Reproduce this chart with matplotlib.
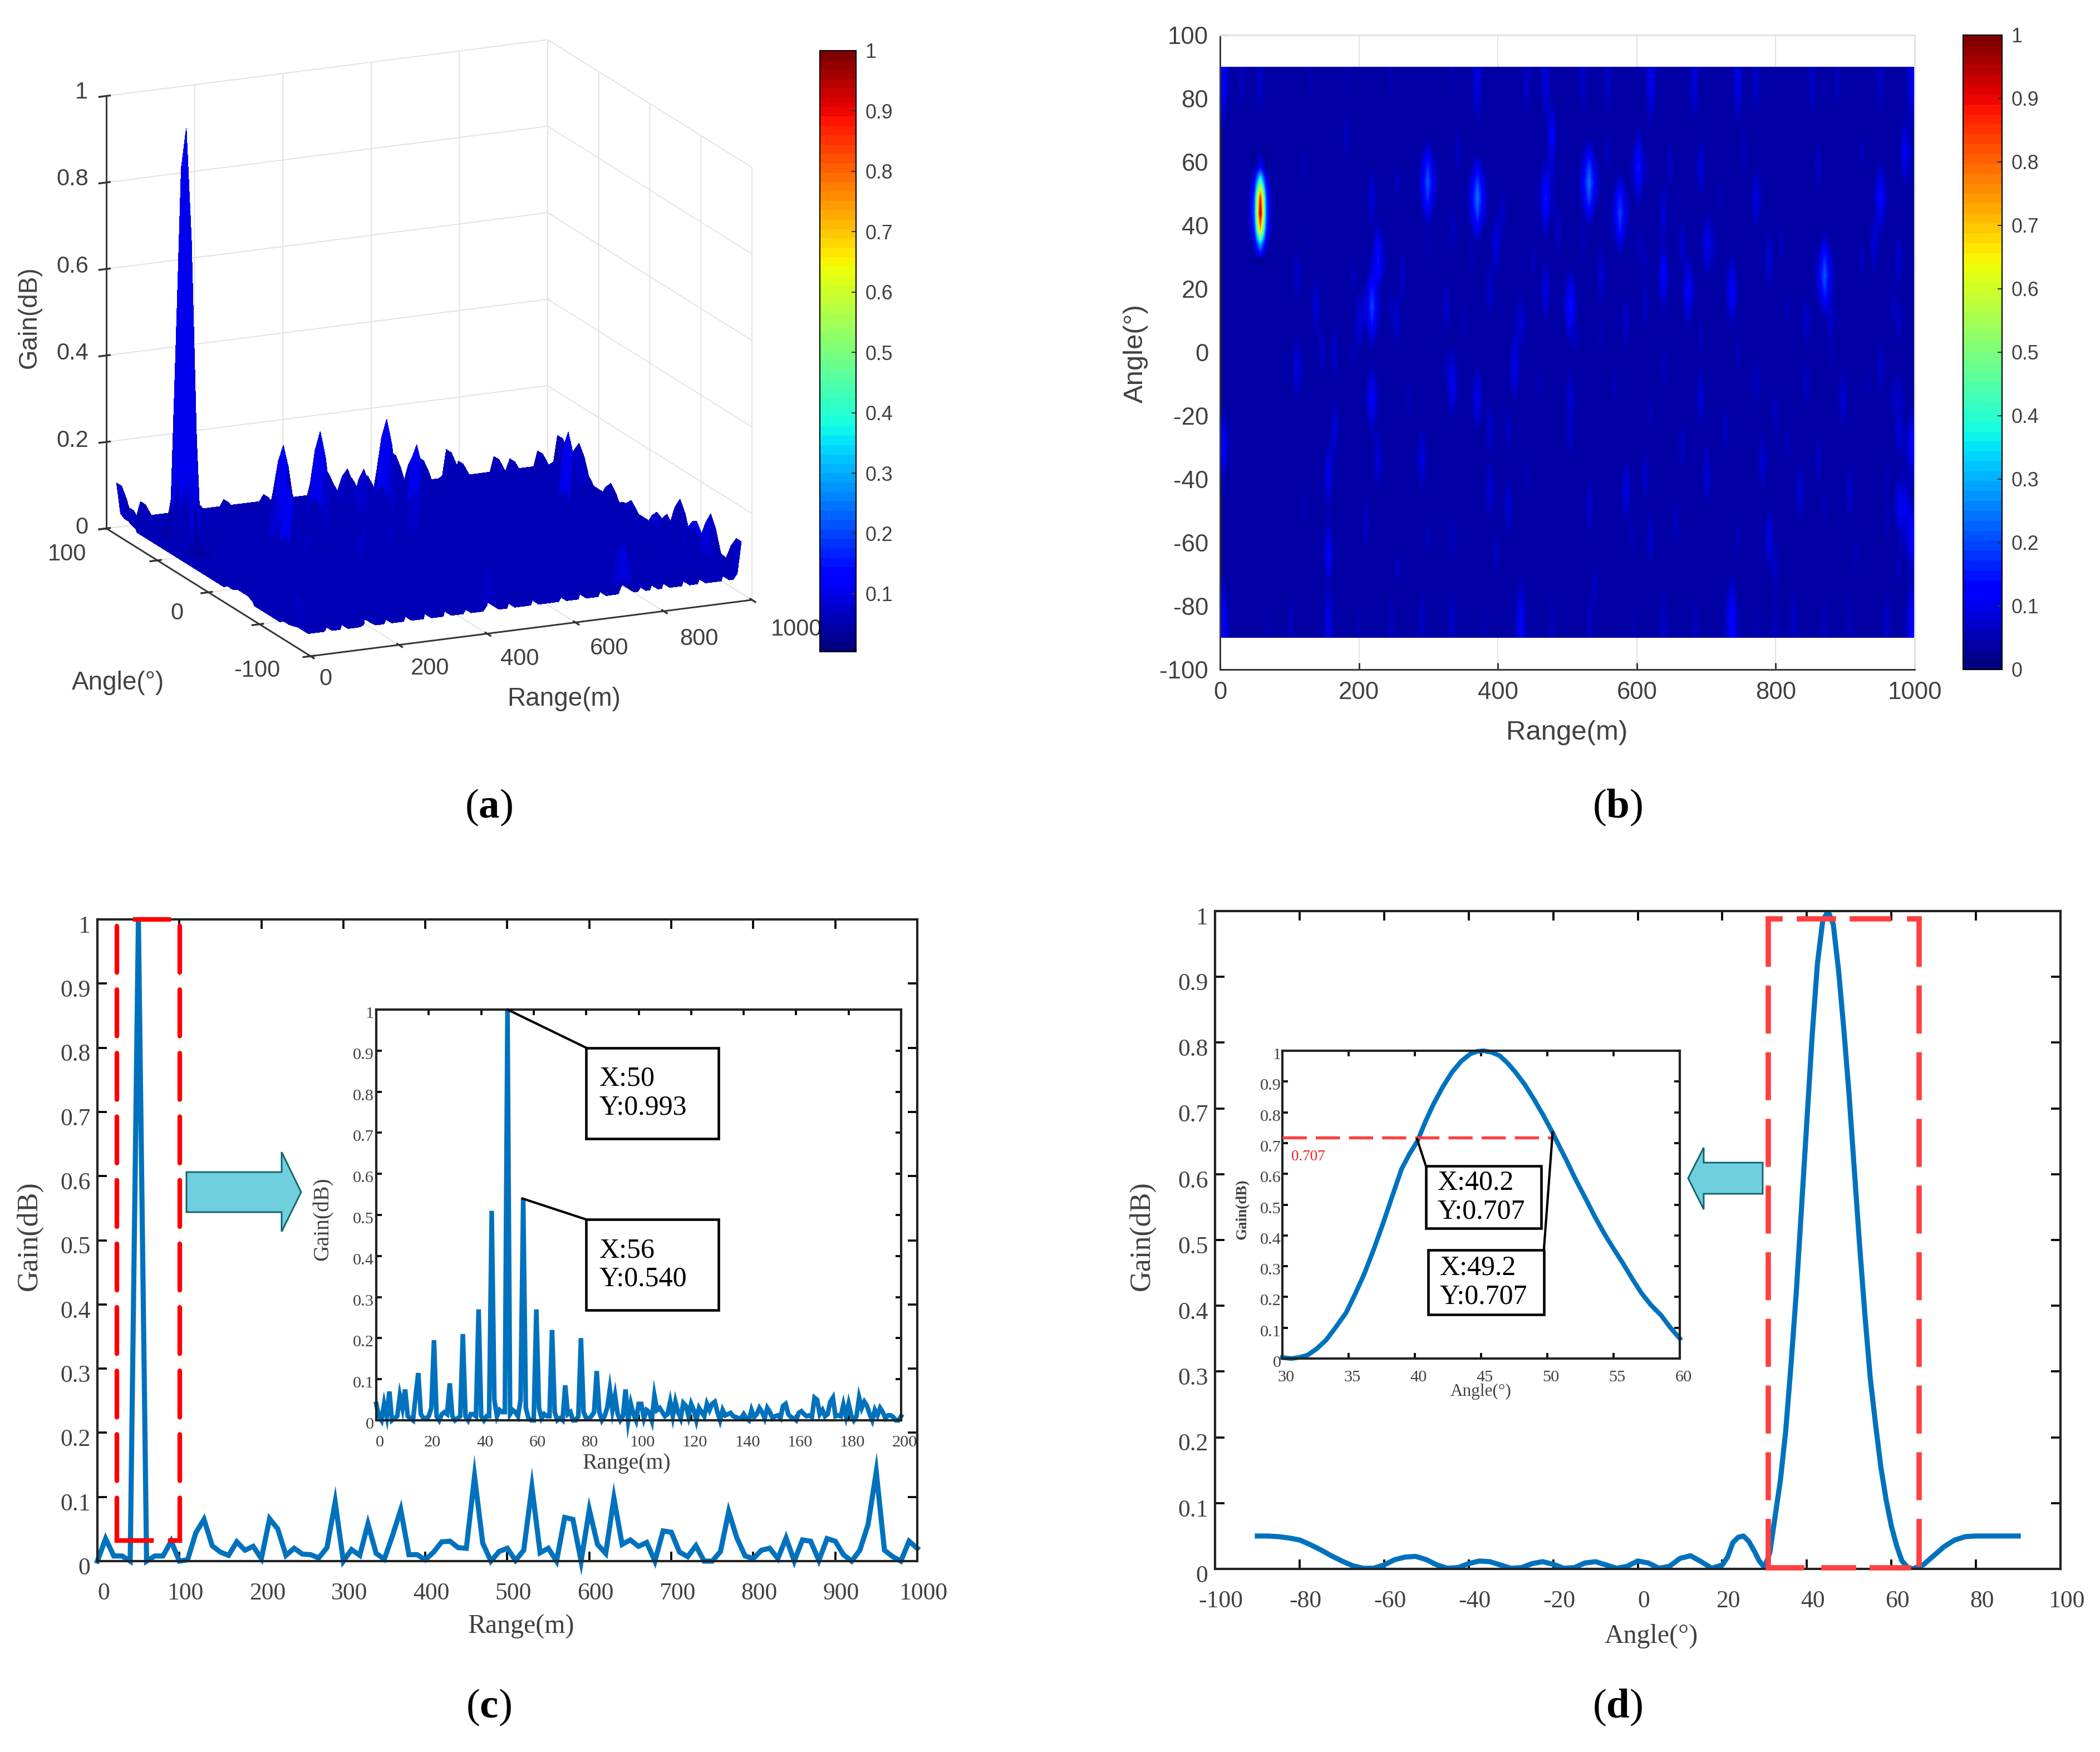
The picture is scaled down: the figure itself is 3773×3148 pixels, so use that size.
import numpy as np
import matplotlib
matplotlib.use("Agg")
import matplotlib.pyplot as plt
from matplotlib.cm import ScalarMappable
from matplotlib.colors import Normalize
from matplotlib.patches import Polygon, Rectangle
from matplotlib.transforms import Bbox, ScaledTranslation
from mpl_toolkits.mplot3d import proj3d

W, H = 3773, 3148
GREY = '#404040'
BLUE = '#0072BD'
SERIF = 'Liberation Serif'
SANS = 'Liberation Sans'

plt.rcParams['mathtext.fontset'] = 'custom'
plt.rcParams['mathtext.bf'] = 'Liberation Serif:bold'
plt.rcParams['mathtext.rm'] = 'Liberation Serif'
plt.rcParams['grid.color'] = '#e4e4e4'
plt.rcParams['grid.linewidth'] = 0.5

# gain map, angle rows and range columns
angle_grid = np.arange(-90, 91, 5)
range_grid = np.arange(0, 1000, 9)
base_gain = 0.035

# main lobe at 54 m, one value per angle
peak_angle = [30, 35, 40, 45, 50, 55, 60, 65]
peak_gain = [0.03, 0.30, 0.75, 1.0, 0.90, 0.50, 0.12, 0.04]

# streaks along the +90 edge
top_range = [0, 30, 55, 125, 180, 240, 330, 370, 440, 470, 520, 555, 625, 680, 745, 770, 855, 890, 950, 995]
top_gain = [0.12, 0.06, 0.07, 0.05, 0.05, 0.05, 0.05, 0.10, 0.07, 0.09, 0.07, 0.07, 0.11, 0.09, 0.10, 0.07, 0.07, 0.06, 0.07, 0.10]
# streaks along the -90 edge
low_range = [0, 60, 100, 150, 200, 245, 290, 335, 380, 435, 480, 535, 590, 640, 680, 735, 770, 800, 830, 870, 905, 960, 995]
low_gain = [0.12, 0.05, 0.06, 0.10, 0.05, 0.06, 0.07, 0.07, 0.05, 0.12, 0.06, 0.06, 0.05, 0.07, 0.06, 0.14, 0.05, 0.06, 0.07, 0.06, 0.06, 0.07, 0.12]

# blobs in the map
blob_range = [295, 535, 606, 373, 576, 875, 213, 224, 213, 504, 464, 473, 956, 675, 734, 635, 104, 136, 195, 145,
              165, 104, 254, 222, 165, 154, 154, 284, 335, 385, 385, 417, 426, 435, 394, 385, 467, 553, 587, 616,
              635, 695, 770, 843, 843, 897, 956, 780, 834, 789, 907, 705, 666, 789, 775, 695, 635, 372, 218, 335,
              263, 326, 503, 506, 585, 616, 666, 703, 798, 947, 995, 997, 0, 330, 530, 625, 990, 985, 880,
              990, 985, 985, 985, 985, 990, 980]
blob_angle = [56, 53, 61, 51, 47, 25, 13, 31, -17, 17, 48, 69, 48, 18, 18, 26, 25, 15, 8, 1,
              1, -5, 9, -36, -27, -39, -66, -33, -11, -27, -47, -50, -3, 11, 34, 22, 22, 23, 12, 14,
              -3, -13, -8, -8, 8, -13, -3, -36, -44, -60, -47, 36, 37, 30, 48, 58, 44, -14, 51, 40,
              25, 17, -13, -24, -46, -39, -30, -39, -19, 33, -30, -61, -30, -61, -50, -61, 65, -49, 12,
              65, 30, 10, -15, -25, -49, -70]
blob_gain = [0.22, 0.25, 0.15, 0.25, 0.20, 0.22, 0.20, 0.15, 0.13, 0.15, 0.15, 0.12, 0.14, 0.13, 0.13, 0.13, 0.08, 0.09, 0.09, 0.07,
             0.08, 0.10, 0.08, 0.09, 0.09, 0.11, 0.12, 0.10, 0.12, 0.08, 0.09, 0.09, 0.11, 0.09, 0.10, 0.08, 0.10, 0.09, 0.08, 0.07,
             0.07, 0.09, 0.07, 0.07, 0.08, 0.09, 0.08, 0.09, 0.09, 0.10, 0.08, 0.11, 0.08, 0.09, 0.10, 0.09, 0.09, 0.11, 0.09, 0.07,
             0.07, 0.08, 0.09, 0.08, 0.10, 0.08, 0.07, 0.09, 0.07, 0.09, 0.13, 0.14, 0.13, 0.07, 0.08, 0.08, 0.11, 0.11, 0.08,
             0.12, 0.08, 0.07, 0.08, 0.09, 0.11, 0.06]

# fainter blobs, most of the texture
faint_range = [120, 180, 250, 300, 345, 405, 450, 480, 520, 560, 600, 650, 720, 760, 810, 860, 925, 970,
               130, 190, 240, 310, 360, 420, 490, 545, 610, 655, 715, 750, 820, 885, 930, 975,
               125, 185, 270, 320, 350, 410, 455, 515, 570, 625, 690, 725, 815, 865, 935, 965,
               115, 205, 255, 300, 400, 445, 540, 595, 660, 745, 805, 870, 920, 960]
faint_angle = [60, 70, 55, 35, 65, 45, 30, 60, 35, 65, 35, 60, 50, 65, 35, 60, 65, 15,
               40, 25, 15, 5, 30, 5, 40, 5, 30, 5, 35, 0, 15, 0, 30, -15,
               -15, 0, -15, -5, 10, -25, -10, 5, -10, -20, 5, -25, -30, -35, -10, -40,
               -50, -55, -70, -60, -65, -40, -75, -60, -55, -60, -70, -50, -65, -55]
faint_gain = [0.06, 0.07, 0.06, 0.06, 0.07, 0.07, 0.06, 0.08, 0.06, 0.07, 0.06, 0.07, 0.06, 0.07, 0.06, 0.07, 0.06, 0.06,
              0.05, 0.06, 0.06, 0.05, 0.06, 0.06, 0.07, 0.06, 0.06, 0.05, 0.07, 0.06, 0.06, 0.06, 0.06, 0.06,
              0.05, 0.06, 0.06, 0.06, 0.06, 0.07, 0.06, 0.06, 0.06, 0.06, 0.06, 0.07, 0.06, 0.07, 0.06, 0.06,
              0.06, 0.07, 0.06, 0.06, 0.07, 0.06, 0.07, 0.06, 0.07, 0.06, 0.07, 0.06, 0.06, 0.06]

# panel c, one value every 10 m
range_c = np.arange(0, 1001, 10)
gain_c = [0, .035, .008, .008, 0, 1, 0, .008, .008, .031, 0, .002, .044, .065, .024, .014, .009, .03, .017, .023,
          .004, .066, .05, .009, .02, .011, .01, .005, .021, .092, 0, .018, .009, .058, .012, .003, .04, .08, .01, .01,
          .002, .014, .03, .031, .021, .02, .132, .028, 0, .015, .02, .001, .017, .115, .013, .02, 0, .068, .065, 0,
          .08, .026, .012, .098, .026, .033, .023, .029, 0, .047, .045, .014, .007, .024, 0, 0, .015, .077, .036, .008,
          .004, .017, .02, .004, .036, 0, .033, .031, .001, .035, .031, .01, 0, .017, .057, .139, .017, .007, 0, .031, .02]

# panel c inset, one value every metre
gain_c_zoom = [.04, .01, 0, .04, .01, .07, 0, .005, .01, .06,
               .03, .075, .01, .005, 0, .06, .115, .015, .005, .005,
               .01, .03, .195, .01, 0, .015, .02, .015, .09, .01,
               0, .005, .01, .21, .01, 0, .015, .015, .01, .27,
               .01, 0, .01, .01, .51, .05, .01, .025, .02, .02,
               1.0, .015, .025, .02, .01, .05, .54, .03, .005, 0,
               0, .27, .03, .005, .015, .01, .01, .22, .02, 0,
               .005, 0, .085, .015, .02, 0, 0, .01, .20, .02,
               .005, .005, .01, .02, .12, .02, 0, .01, .03, .075,
               .025, .06, .015, 0, .01, .075, 0, .04, .015, 0,
               .04, .04, .005, .025, .02, 0, .06, .025, .03, .02,
               .01, .015, .045, .01, .045, .02, .005, .042, .035, .01,
               .04, .025, 0, .03, .02, .01, .04, .025, .04, .045,
               .02, 0, .025, .012, .015, .018, .01, .008, .005, .005,
               .015, .005, 0, .025, .008, .015, .03, .02, .005, .03,
               .02, .005, .01, .012, .005, .035, .04, .015, .008, .005,
               0, .018, .022, .015, .01, .012, .008, .055, .05, .015,
               .025, .01, .015, .045, .055, .01, .012, .01, .038, .01,
               .04, .012, 0, .01, .055, .03, .045, .035, .015, 0,
               .025, .012, .03, .02, .005, .012, .012, .008, 0, 0, .01]

# panel d
angle_d = [-90, -87.5, -85, -82.5, -80, -77.5, -75, -72.5, -70, -67.5, -65, -62.5, -60, -57.5, -55, -52.5, -50, -47.5,
           -45, -42.5, -40, -37.5, -35, -32.5, -30, -27.5, -25, -22.5, -20, -17.5, -15, -12.5, -10, -7.5, -5, -2.5,
           0, 2.5, 5, 7.5, 10, 12.5, 15, 17.5, 20, 21.25, 22.5, 23.75, 25, 26.25, 27.5, 28.75,
           30, 31.25, 32.5, 33.75, 35, 36.25, 37.5, 38.75, 40, 41.25, 42.5, 43.75, 45, 46.25, 47.5, 48.75,
           50, 51.25, 52.5, 53.75, 55, 56.25, 57.5, 58.75, 60, 61.25, 62.5, 63.75, 65, 67.5, 70, 72.5, 75, 77.5, 80, 85, 90]
gain_d = [.05, .05, .049, .047, .044, .037, .029, .02, .012, .005, .001, .001, .006, .014, .018, .019, .014, .006,
          .001, .002, .008, .012, .011, .006, .001, .002, .008, .011, .007, .001, .002, .009, .011, .006, .001, .004,
          .012, .009, .001, .004, .016, .02, .011, .001, .006, .018, .04, .048, .05, .042, .028, .012,
          .002, .025, .08, .135, .21, .31, .42, .55, .68, .81, .92, .985, 1.0, .98, .91, .82,
          .72, .605, .49, .385, .29, .22, .155, .105, .065, .035, .012, .003, 0, .006, .02, .034, .044, .049, .05, .05, .05]

# panel d inset
angle_d_zoom = [30, 30.7, 31.3, 31.9, 32.6, 33.3, 34, 34.8, 35.5, 36.2, 36.9, 37.6, 38.3, 39, 39.6, 40.2, 40.8, 41.4,
                42.1, 42.8, 43.5, 44.2, 44.7, 45.2, 45.8, 46.4, 47, 47.6, 48.3, 49, 49.7, 50.4, 50.9, 51.4, 52.1,
                52.9, 53.6, 54.3, 55, 55.7, 56.4, 57.1, 57.8, 58.6, 59.3, 60]
gain_d_zoom = [.003, 0, .004, .011, .032, .06, .1, .148, .21, .277, .355, .439, .528, .616, .665, .707, .77, .826,
               .882, .93, .966, .99, .998, 1, .995, .984, .96, .93, .89, .842, .79, .734, .69, .648, .585,
               .519, .46, .406, .357, .31, .26, .213, .175, .14, .1, .065]

tenths = ['0', '0.1', '0.2', '0.3', '0.4', '0.5', '0.6', '0.7', '0.8', '0.9', '1']


def row_of(angle):
    return int(np.argmin(np.abs(angle_grid - angle)))


def col_of(rng):
    return int(np.argmin(np.abs(range_grid - rng)))


def paint(grid, a, r, g):
    j = col_of(r)
    for dj, h in zip([-1, 0, 1], [0.4, 1, 0.4]):
        if 0 <= j + dj < grid.shape[1]:
            grid[row_of(a), j + dj] = max(grid[row_of(a), j + dj], g * h)


def build_map():
    grid = np.full((len(angle_grid), len(range_grid)), base_gain)
    for r, g in zip(top_range, top_gain):
        for a, f in zip([90, 85, 80, 75], [1, 1, 0.8, 0.5]):
            paint(grid, a, r, g * f)
    for r, g in zip(low_range, low_gain):
        for a, f in zip([-90, -85, -80, -75], [1, 1, 0.8, 0.5]):
            paint(grid, a, r, g * f)
    for r, a, g in zip(blob_range + faint_range, blob_angle + faint_angle, blob_gain + faint_gain):
        for da, f in zip([-10, -5, 0, 5, 10], [0.45, 0.8, 1, 0.8, 0.45]):
            if abs(a + da) <= 90:
                paint(grid, a + da, r, g * f)
    for a, g in zip(peak_angle, peak_gain):
        grid[row_of(a), col_of(54)] = g
        grid[row_of(a), col_of(54) - 1] = max(0.03, g * 0.2)
        grid[row_of(a), col_of(54) + 1] = max(0.03, g * 0.2)
    return grid


def fx(x):
    return x / W


def fy(y):
    return 1 - y / H


def axes_px(l, t, r, b, **kw):
    return fig.add_axes([l / W, 1 - b / H, (r - l) / W, (b - t) / H], **kw)


def label_px(x, y, s, **kw):
    kw.setdefault('color', GREY)
    return fig.text(fx(x), fy(y), s, ha='center', va='center', **kw)


def poly_px(pts, **kw):
    fig.add_artist(Polygon([(fx(x), fy(y)) for x, y in pts], closed=True, transform=fig.transFigure, **kw))


def style_line_axes(ax, xticks, xlabels, size, dx=2.6, dy=-2.0, xpad=9, ypad=3, length=4):
    ax.set_xticks(xticks)
    ax.set_xticklabels(xlabels)
    ax.set_yticks(np.arange(0, 1.01, 0.1))
    ax.set_yticklabels(tenths)
    ax.set_ylim(0, 1)
    ax.tick_params(direction='in', top=True, right=True, length=length, width=0.9, labelsize=size,
                   labelcolor=GREY)
    ax.tick_params(axis='x', pad=xpad)
    ax.tick_params(axis='y', pad=ypad)
    for lab in ax.get_xticklabels() + ax.get_yticklabels():
        lab.set_family(SERIF)
    off = ScaledTranslation(dx / 72, 0, fig.dpi_scale_trans)
    for lab in ax.get_xticklabels():
        lab.set_transform(lab.get_transform() + off)
    off = ScaledTranslation(0, dy / 72, fig.dpi_scale_trans)
    for lab in ax.get_yticklabels():
        lab.set_transform(lab.get_transform() + off)
    for s in ax.spines.values():
        s.set_linewidth(1.0)
        s.set_color('#222222')


def colorbar_px(l, t, r, b, vmin):
    cax = axes_px(l, t, r, b)
    sm = ScalarMappable(Normalize(vmin, 1), jet)
    ticks = np.arange(0 if vmin == 0 else 0.1, 1.01, 0.1)
    cb = fig.colorbar(sm, cax=cax, ticks=ticks)
    cb.set_ticklabels(tenths[0 if vmin == 0 else 1:])
    cax.tick_params(direction='in', length=2, width=0.5, labelsize=8.6, labelcolor=GREY, pad=4, color='#333333')
    for lab in cax.get_yticklabels():
        lab.set_family(SANS)
    cb.outline.set_linewidth(0.5)


def callout(ax, x0, y0, x1, y1, text, size, tx=0.1):
    ax.add_patch(Rectangle((x0, y0), x1 - x0, y1 - y0, transform=ax.transAxes, fc='white', ec='black', lw=1.1, zorder=6))
    ax.text(x0 + (x1 - x0) * tx, (y0 + y1) / 2, text, transform=ax.transAxes, family=SERIF, fontsize=size,
            color='black', va='center', ha='left', linespacing=1.15, zorder=7)


fig = plt.figure(figsize=(W / 300, H / 300), dpi=300, facecolor='white')
jet = plt.get_cmap('jet', 64)
gain_map = build_map()

# (a) surface
ax_a = fig.add_subplot(111, projection='3d', proj_type='ortho')
ax_a.set_position([0, 0, 1400 / W, 1400 / H])
ax_a.view_init(elev=16.4, azim=-114.3)
box = (362, 371, 337)
ax_a.set_box_aspect(box)
ax_a.set_xlim(0, 1000, view_margin=0)
ax_a.set_ylim(-100, 100, view_margin=0)
ax_a.set_zlim(0, 1, view_margin=0)
ax_a.set_facecolor('none')

X, Y = np.meshgrid(range_grid, angle_grid)
# faces take the colour of their lowest corner, the steep lobe stays dark as in the reference
lowest = gain_map.copy()
lowest[:-1, :-1] = np.minimum.reduce([gain_map[:-1, :-1], gain_map[1:, :-1], gain_map[:-1, 1:], gain_map[1:, 1:]])
ax_a.plot_surface(X, Y, gain_map, facecolors=jet(Normalize(0, 1)(np.minimum(lowest * 1.5, 0.1))), rstride=1, cstride=1,
                  shade=False, linewidth=0, antialiased=False)
ax_a.set_xticks(range(0, 1001, 200))
ax_a.set_yticks([-100, -50, 0, 50, 100])
ax_a.set_zticks(np.arange(0, 1.01, 0.2))
ax_a.set_xticklabels([])
ax_a.set_yticklabels([])
ax_a.set_zticklabels([])
for axis in (ax_a.xaxis, ax_a.yaxis, ax_a.zaxis):
    axis.set_pane_color((1, 1, 1, 0))
    axis.pane.set_edgecolor('#dddddd')
    axis.line.set_color('#333333')
    axis.line.set_linewidth(0.7)
    axis.set_tick_params(color='#333333', width=0.6)


def project(x, y, z):
    ax_a.apply_aspect()
    px, py, _ = proj3d.proj_transform(x, y, z, ax_a.get_proj())
    return ax_a.transData.transform((px, py))


# fit the box to the corners seen in the reference
span = project(1000, -100, 0)[0] - project(0, 100, 0)[0]
ax_a.set_box_aspect(box, zoom=1160 / span)
front = project(0, -100, 0)
pos = ax_a.get_position()
ax_a.set_position([pos.x0 + (558 - front[0]) / W, pos.y0 + ((H - 1179) - front[1]) / H, pos.width, pos.height])

for (x, y), s in zip([(61, 69), (54, 134), (54, 199), (54, 264), (54, 329), (61, 394)], ['1', '0.8', '0.6', '0.4', '0.2', '0']):
    label_px(x * 2.406, y * 2.406, s, family=SANS, fontsize=10)
for (x, y), s in zip([(243, 507), (321, 499), (388, 492), (455, 484), (522, 477), (595, 470)], ['0', '200', '400', '600', '800', '1000']):
    label_px(x * 2.406, y * 2.406, s, family=SANS, fontsize=10, zorder=-1)
for (x, y), s in zip([(50, 414), (132, 458), (192, 501)], ['100', '0', '-100']):
    label_px(x * 2.406, y * 2.406, s, family=SANS, fontsize=10)
label_px(53, 570, 'Gain(dB)', family=SANS, fontsize=11, rotation=90)
label_px(212, 1227, 'Angle(°)', family=SANS, fontsize=11)
label_px(1013, 1256, 'Range(m)', family=SANS, fontsize=11)
colorbar_px(1473, 91, 1538, 1171, 0.004)

# (b) map
ax_b = axes_px(2192, 63, 3440, 1203)
ax_b.imshow(gain_map, origin='lower', extent=[0, 1000, -90, 90], aspect='auto', cmap=jet, vmin=0, vmax=1,
            interpolation='bilinear', interpolation_stage='data', zorder=2)
ax_b.set_xlim(0, 1000)
ax_b.set_ylim(-100, 100)
ax_b.set_xticks(range(0, 1001, 200))
ax_b.set_yticks(range(-100, 101, 20))
ax_b.set_yticklabels([str(v) for v in range(-100, 101, 20)])
ax_b.grid(True, zorder=0)
ax_b.tick_params(direction='in', length=3, width=0.7, labelsize=10.5, labelcolor=GREY, pad=5, color='#333333')
for lab in ax_b.get_xticklabels() + ax_b.get_yticklabels():
    lab.set_family(SANS)
ax_b.spines['top'].set_color('#e0e0e0')
ax_b.spines['right'].set_color('#e0e0e0')
ax_b.spines['left'].set_color('#333333')
ax_b.spines['bottom'].set_color('#333333')
for s in ax_b.spines.values():
    s.set_linewidth(0.7)
label_px(2040, 635, 'Angle(°)', family=SANS, fontsize=11.8, rotation=90)
label_px(2815, 1316, 'Range(m)', family=SANS, fontsize=11.8)
colorbar_px(3527, 63, 3597, 1203, 0)

# (c) range cut
ax_c = axes_px(175, 1652, 1648, 2805)
ax_c.plot(range_c, gain_c, color=BLUE, lw=2.2, solid_joinstyle='miter', clip_on=False)
ax_c.set_xlim(0, 1000)
style_line_axes(ax_c, range(0, 1001, 100), [str(v) for v in range(0, 1001, 100)], 10.5)
red_dash = dict(color='#FF0000', lw=2.0, clip_on=False, dash_capstyle='round', zorder=5)
ax_c.plot([23.5, 23.5], [0.99, 0.032], dashes=(10, 3.7), **red_dash)
ax_c.plot([100.7, 100.7], [0.99, 0.032], dashes=(10, 3.7), **red_dash)
ax_c.plot([46, 87], [1, 1], **red_dash)
ax_c.plot([23.5, 66], [0.032, 0.032], **red_dash)
ax_c.plot([89, 100.7], [0.032, 0.032], **red_dash)
label_px(53, 2221, 'Gain(dB)', family=SERIF, fontsize=12.5, rotation=90)
label_px(936, 2923, 'Range(m)', family=SERIF, fontsize=11.5)
poly_px([(335, 2106), (506, 2106), (506, 2070), (541, 2142), (506, 2213), (506, 2178), (335, 2178)],
        fc='#70CFDF', ec='#0F6570', lw=0.7, zorder=4)

ax_c2 = axes_px(676, 1814, 1619, 2552)
ax_c2.plot(np.arange(len(gain_c_zoom)), gain_c_zoom, color=BLUE, lw=2.0, solid_joinstyle='miter', clip_on=False)
ax_c2.set_xlim(0, 200)
style_line_axes(ax_c2, range(0, 201, 20), [str(v) for v in range(0, 201, 20)], 7.3, dx=1.6, dy=-1.2, xpad=6.5, ypad=1, length=2.5)
end_label = ax_c2.get_xticklabels()[-1]
end_label.set_clip_on(True)
end_label.set_clip_box(Bbox([[0, 0], [1646, H]]))
ax_c2.plot([0.25, 0.40], [1.0, 0.907], color='black', lw=1.0, transform=ax_c2.transAxes, clip_on=False, zorder=5)
ax_c2.plot([0.2785, 0.40], [0.54, 0.489], color='black', lw=1.0, transform=ax_c2.transAxes, clip_on=False, zorder=5)
callout(ax_c2, 0.40, 0.685, 0.652, 0.907, 'X:50\nY:0.993', 12)
callout(ax_c2, 0.40, 0.268, 0.652, 0.489, 'X:56\nY:0.540', 12)
label_px(580, 2190, 'Gain(dB)', family=SERIF, fontsize=9.5, rotation=90)
label_px(1126, 2630, 'Range(m)', family=SERIF, fontsize=9.5)

# (d) angle cut
ax_d = axes_px(2183, 1637, 3702, 2819)
ax_d.plot(angle_d, gain_d, color=BLUE, lw=2.2)
ax_d.set_xlim(-100, 100)
style_line_axes(ax_d, range(-100, 101, 20), [str(v) for v in range(-100, 101, 20)], 10.5)
red_dash_d = dict(color='#FF4040', lw=2.3, clip_on=False, zorder=5)
ax_d.plot([30.9, 30.9], [0.988, 0.002], dashes=(9, 3.5), **red_dash_d)
ax_d.plot([66.5, 66.5], [0.988, 0.002], dashes=(9, 3.5), **red_dash_d)
ax_d.plot([30.9, 33.7], [0.988, 0.988], **red_dash_d)
ax_d.plot([38.2, 46.3], [0.988, 0.988], **red_dash_d)
ax_d.plot([50.8, 59.3], [0.988, 0.988], **red_dash_d)
ax_d.plot([64.3, 66.5], [0.988, 0.988], **red_dash_d)
ax_d.plot([30.9, 38.8], [0.002, 0.002], **red_dash_d)
ax_d.plot([44, 51], [0.002, 0.002], **red_dash_d)
ax_d.plot([55.5, 64], [0.002, 0.002], **red_dash_d)
label_px(2052, 2221, 'Gain(dB)', family=SERIF, fontsize=12.5, rotation=90)
label_px(2967, 2940, 'Angle(°)', family=SERIF, fontsize=11.5)
poly_px([(3167, 2089), (3061, 2089), (3061, 2062), (3033, 2117), (3061, 2173), (3061, 2145), (3167, 2145)],
        fc='#70CFDF', ec='#0F6570', lw=0.7, zorder=4)

ax_d2 = axes_px(2304, 1888, 3018, 2441)
ax_d2.plot(angle_d_zoom, gain_d_zoom, color=BLUE, lw=2.0, clip_on=False)
ax_d2.set_xlim(30, 60)
style_line_axes(ax_d2, range(30, 61, 5), [str(v) for v in range(30, 61, 5)], 7.3, dx=1.6, dy=-1.2, xpad=5, ypad=0.5, length=2.5)
ax_d2.plot([30, 50.3], [0.717, 0.717], color='#FF4040', lw=1.3, dashes=(8, 3), zorder=5)
ax_d2.text(0.022, 0.655, '0.707', transform=ax_d2.transAxes, family=SERIF, fontsize=6.5, color='#EE2020', va='center')
ax_d2.plot([0.339, 0.361], [0.713, 0.626], color='black', lw=1.0, transform=ax_d2.transAxes, zorder=5)
ax_d2.plot([0.68, 0.658], [0.734, 0.353], color='black', lw=1.0, transform=ax_d2.transAxes, zorder=5)
callout(ax_d2, 0.361, 0.423, 0.651, 0.626, 'X:40.2\nY:0.707', 12)
callout(ax_d2, 0.367, 0.142, 0.658, 0.353, 'X:49.2\nY:0.707', 12)
label_px(2232, 2173, 'Gain(dB)', family=SERIF, fontsize=6.5, rotation=90, fontweight='bold', zorder=8)
label_px(2661, 2500, 'Angle(°)', family=SERIF, fontsize=7.5)

# captions
for x, y, s in [(878, 1451, 'a'), (2906, 1451, 'b'), (878, 3068, 'c'), (2906, 3068, 'd')]:
    label_px(x, y, '($\\mathbf{' + s + '}$)', family=SERIF, fontsize=18, color='black')

fig.savefig('out.png', dpi=300, facecolor='white')
